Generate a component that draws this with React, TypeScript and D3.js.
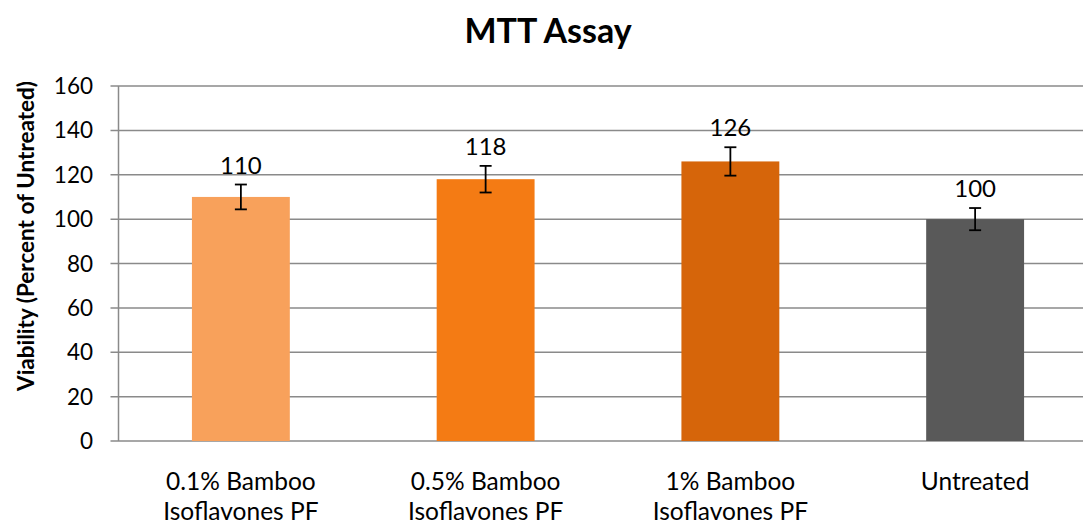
import React from "react";
import * as d3 from "d3";

const categories: string[][] = [
  ["0.1% Bamboo", "Isoflavones PF"],
  ["0.5% Bamboo", "Isoflavones PF"],
  ["1% Bamboo", "Isoflavones PF"],
  ["Untreated"],
];
const values: number[] = [110, 118, 126, 100];
const errors: number[] = [5.6, 6, 6.4, 5];
const colors: string[] = ["#F8A15B", "#F47B14", "#D6650A", "#595959"];
const yTicks: number[] = [0, 20, 40, 60, 80, 100, 120, 140, 160];
const title = "MTT Assay";
const yLabel = "Viability (Percent of Untreated)";

const W = 1083;
const H = 525;
const FONT = "Lato, 'Open Sans', sans-serif";

export default function App() {
  const keys = categories.map((_, i) => String(i));
  const x = d3
    .scaleBand<string>()
    .domain(keys)
    .range([118.5, 1097.5])
    .paddingInner(0.6)
    .paddingOuter(0.3);
  const y = d3.scaleLinear().domain([0, 160]).range([441, 86]);
  const left = 118.5;
  const bw = x.bandwidth();

  return (
    <div style={{ position: "absolute", left: 0, top: 0 }}>
      <svg width={W} height={H} style={{ display: "block", background: "#fff" }}>
        <rect x={0} y={0} width={W} height={H} fill="#fff" />
        <text x={548} y={43} textAnchor="middle" fontFamily={FONT} fontWeight="bold" fontSize={34} fill="#000">
          {title}
        </text>
        {yTicks.map((t) => (
          <g key={t}>
            <line x1={left - 8} x2={W} y1={y(t)} y2={y(t)} stroke="#8a8a8a" strokeWidth={1.5} />
            <text x={93} y={y(t)} dy="0.36em" textAnchor="end" fontFamily={FONT} fontSize={22.5} fill="#000">
              {t}
            </text>
          </g>
        ))}
        <line x1={left} x2={left} y1={y(160)} y2={y(0)} stroke="#8a8a8a" strokeWidth={1.5} />
        <text
          transform={`translate(34, 236) rotate(-90)`}
          textAnchor="middle"
          fontFamily={FONT}
          fontWeight="bold"
          fontSize={22.5}
          fill="#000"
        >
          {yLabel}
        </text>
        {values.map((v, i) => {
          const k = keys[i];
          const x0 = x(k)!;
          const cx = x0 + bw / 2;
          const e = errors[i];
          return (
            <g key={k}>
              <rect x={x0} y={y(v)} width={bw} height={y(0) - y(v)} fill={colors[i]} />
              <line x1={cx} x2={cx} y1={y(v + e)} y2={y(v - e)} stroke="#000" strokeWidth={1.8} />
              <line x1={cx - 6} x2={cx + 6} y1={y(v + e)} y2={y(v + e)} stroke="#000" strokeWidth={1.8} />
              <line x1={cx - 6} x2={cx + 6} y1={y(v - e)} y2={y(v - e)} stroke="#000" strokeWidth={1.8} />
              <text x={cx} y={y(v + e) - 11} textAnchor="middle" fontFamily={FONT} fontSize={24} fill="#000">
                {v}
              </text>
              <text textAnchor="middle" fontFamily={FONT} fontSize={24.5} fill="#000">
                {categories[i].map((line, j) => (
                  <tspan key={j} x={cx} y={490 + j * 29.5}>
                    {line}
                  </tspan>
                ))}
              </text>
            </g>
          );
        })}
      </svg>
    </div>
  );
}
